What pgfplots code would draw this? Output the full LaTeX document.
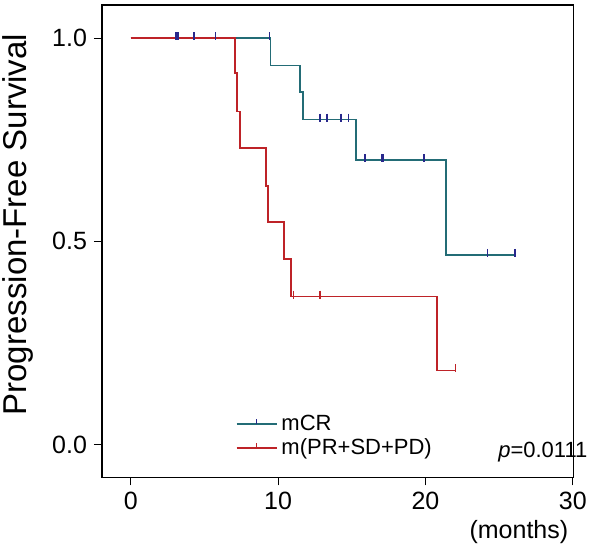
\documentclass[border=0pt]{standalone}
\usepackage{fontspec}
\setmainfont{Liberation Sans}
\usepackage{pgfplots}
\pgfplotsset{compat=1.18}
\definecolor{tealc}{RGB}{35,108,118}
\definecolor{redc}{RGB}{190,35,40}
\definecolor{censb}{RGB}{40,40,140}
\begin{document}
\begin{tikzpicture}
\begin{axis}[
 scale only axis, width=235.65pt, height=236.15pt,
 xmin=-1.95, xmax=30.03, ymin=-0.081, ymax=1.082,
 xtick={0,10,20,30}, ytick={0,0.5,1},
 yticklabels={0.0,0.5,1.0},
 tick align=outside, tick pos=left,
 major tick length=4pt,
 tick style={black, line width=0.6pt},
 ticklabel style={font=\fontsize{12.5}{14}\selectfont},
 /pgf/number format/assume math mode=true,
 ylabel={Progression-Free Survival},
 every axis y label/.style={at={(rel axis cs:0,0.535)}, rotate=90, anchor=center, yshift=42pt, font=\fontsize{16.5}{18}\selectfont},
 xlabel={(months)},
 every axis x label/.style={at={(rel axis cs:1,0)}, anchor=north east, yshift=-18pt, xshift=1pt, font=\fontsize{12.5}{14}\selectfont},
 axis line style={line width=0.7pt},
 clip=false,
 legend style={at={(rel axis cs:0.27,0.025)}, anchor=south west, draw=none, fill=none, font=\fontsize{11}{13}\selectfont, row sep=-1.5pt},
 legend cell align=left,
]
\addlegendimage{legend image code/.code={\draw[tealc, line width=0.9pt] (0pt,0pt) -- (20pt,0pt); \draw[censb, line width=0.8pt] (10pt,0pt) -- (10pt,2.5pt);}}
\addlegendimage{legend image code/.code={\draw[redc, line width=0.9pt] (0pt,0pt) -- (20pt,0pt); \draw[redc, line width=0.8pt] (10pt,0pt) -- (10pt,2.5pt);}}
\legend{mCR, m(PR+SD+PD)}
% mCR
\addplot[const plot, tealc, line width=0.9pt, forget plot] coordinates {
 (0,1) (9.48,0.933) (11.5,0.867) (11.68,0.80) (15.3,0.70) (21.4,0.467) (26.07,0.467)};
\addplot[only marks, mark=|, mark size=2pt, censb, mark options={line width=0.8pt, yshift=1pt}, forget plot] coordinates {
 (3.06,1) (3.15,1) (3.25,1) (4.31,1) (5.74,1) (9.41,1)
 (12.86,0.80) (13.3,0.80) (14.26,0.80) (14.78,0.80)
 (15.9,0.70) (17.05,0.70) (17.14,0.70) (19.9,0.70)
 (24.2,0.467) (26.07,0.467)};
% m(PR+SD+PD)
\addplot[const plot, redc, line width=0.9pt, forget plot] coordinates {
 (0,1) (7.07,0.915) (7.23,0.82) (7.41,0.73) (9.16,0.637) (9.34,0.547) (10.4,0.456) (10.9,0.364) (20.8,0.182) (22.04,0.182)};
\addplot[only marks, mark=|, mark size=2pt, redc, mark options={line width=0.8pt, yshift=1pt}, forget plot] coordinates {
 (11.05,0.364) (12.85,0.364) (22.04,0.182)};
\node[anchor=west, font=\fontsize{11}{13}\selectfont, inner sep=0pt] at (rel axis cs:0.840,0.054) {\textit{p}=0.0111};
\end{axis}
\pgfresetboundingbox
\path[use as bounding box] ([xshift=-51pt,yshift=-37.85pt]current axis.south west) rectangle ([xshift=8.35pt,yshift=2.5pt]current axis.north east);
\end{tikzpicture}
\end{document}
